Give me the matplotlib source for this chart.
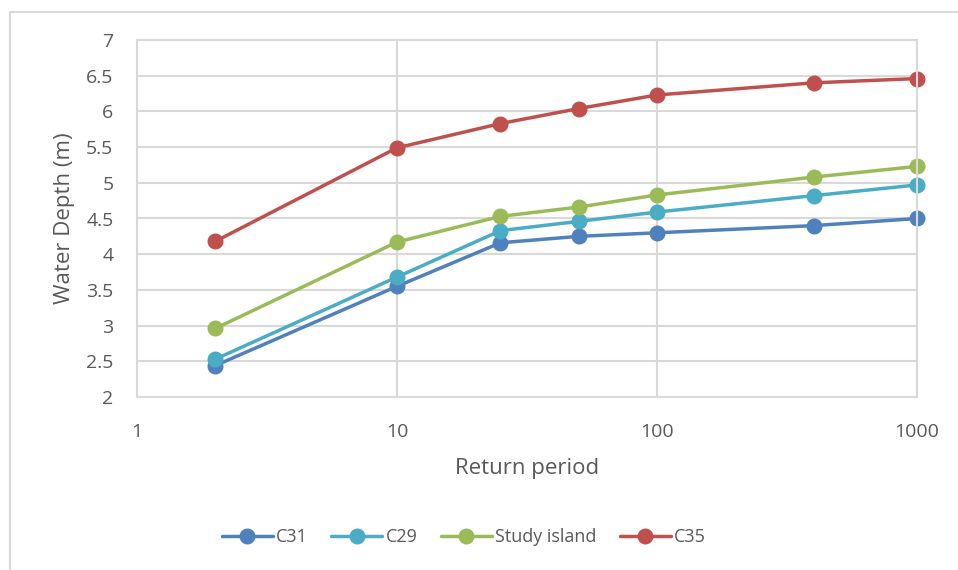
import matplotlib
matplotlib.use("Agg")
import matplotlib.pyplot as plt
from matplotlib.patches import Rectangle
from matplotlib.ticker import FixedLocator, FixedFormatter, NullLocator

plt.rcParams['font.family'] = ['Open Sans', 'DejaVu Sans']

# data
return_period = [2, 10, 25, 50, 100, 400, 1000]
c31 = [2.44, 3.55, 4.16, 4.25, 4.30, 4.40, 4.50]
c29 = [2.53, 3.68, 4.33, 4.46, 4.59, 4.82, 4.97]
study_island = [2.96, 4.17, 4.53, 4.66, 4.83, 5.08, 5.23]
c35 = [4.18, 5.49, 5.83, 6.04, 6.23, 6.40, 6.46]

series = [
    ("C31", c31, "#4f81bd"),
    ("C29", c29, "#4bacc6"),
    ("Study island", study_island, "#9bbb59"),
    ("C35", c35, "#c0504d"),
]

fig = plt.figure(figsize=(9.58, 5.70), dpi=100)
ax = fig.add_axes([137 / 958, 1 - 397 / 570, 780 / 958, 357 / 570])

# outer chart frame (only left and top edges show)
fig.patches.append(Rectangle((10 / 958, -0.1), 1.2, (1 - 12 / 570) + 0.1,
                             transform=fig.transFigure, fill=False,
                             edgecolor="#d9d9d9", linewidth=1.5))

for name, vals, col in series:
    ax.plot(return_period, vals, color=col, linewidth=2.5, marker="o",
            markersize=10.5, label=name, solid_capstyle="round", clip_on=False)

ax.set_xscale("log")
ax.set_xlim(1, 1000)
ax.set_ylim(2, 7)
ax.xaxis.set_major_locator(FixedLocator([1, 10, 100, 1000]))
ax.xaxis.set_major_formatter(FixedFormatter(["1", "10", "100", "1000"]))
ax.xaxis.set_minor_locator(NullLocator())
ax.set_yticks([2, 2.5, 3, 3.5, 4, 4.5, 5, 5.5, 6, 6.5, 7])
ax.set_yticklabels(["2", "2.5", "3", "3.5", "4", "4.5", "5", "5.5", "6", "6.5", "7"])

ax.grid(True, color="#d9d9d9", linewidth=1.5)
ax.set_axisbelow(True)
for s in ax.spines.values():
    s.set_color("#d9d9d9")
    s.set_linewidth(1.5)
ax.tick_params(length=0, labelsize=14, colors="#595959")
ax.tick_params(axis="y", pad=17)
ax.tick_params(axis="x", pad=19)

ax.set_xlabel("Return period", fontsize=16, color="#595959", labelpad=12)
ax.set_ylabel("Water Depth (m)", fontsize=16, color="#595959", labelpad=8)

fig.legend(loc="center", bbox_to_anchor=(464 / 958, 1 - 537 / 570), ncol=4,
           frameon=False, fontsize=13, labelcolor="#595959",
           handlelength=2.8, columnspacing=1.3, handletextpad=0.2)

fig.savefig("out.png", dpi=100)
